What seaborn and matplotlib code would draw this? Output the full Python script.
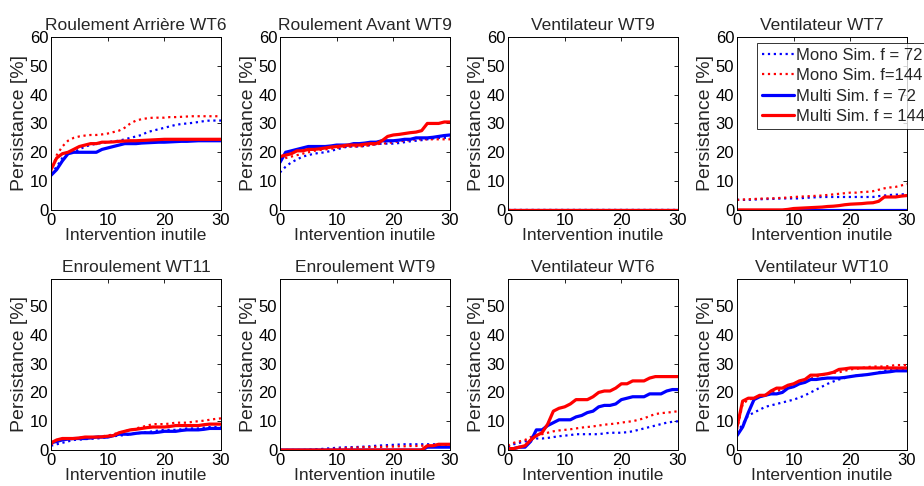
import matplotlib
matplotlib.use('Agg')
import matplotlib.pyplot as plt
import seaborn as sns

sns.set_style("white")
plt.rcParams['font.family'] = ['Liberation Sans', 'DejaVu Sans']
plt.rcParams['xtick.direction'] = 'in'
plt.rcParams['ytick.direction'] = 'in'

# x grid: intervention inutile 0..30
X = [0, 1, 2, 3, 4, 5, 6, 7, 8, 9, 10, 11, 12, 13, 14, 15,
     16, 17, 18, 19, 20, 21, 22, 23, 24, 25, 26, 27, 28, 29, 30]

ZERO = [0, 0, 0, 0, 0, 0, 0, 0, 0, 0, 0, 0, 0, 0, 0, 0,
        0, 0, 0, 0, 0, 0, 0, 0, 0, 0, 0, 0, 0, 0, 0]

titles = ["Roulement Arrière WT6", "Roulement Avant WT9", "Ventilateur WT9", "Ventilateur WT7",
          "Enroulement WT11", "Enroulement WT9", "Ventilateur WT6", "Ventilateur WT10"]

labels = ["Mono Sim. f = 72", "Mono Sim. f=144", "Multi Sim. f = 72", "Multi Sim. f = 144"]

# Roulement Arriere WT6
ra6_mono72 = [12.5, 15, 18, 19.5, 20, 21, 22, 22.5, 23, 23.2, 23.5, 23.8, 24, 24.5, 25, 25.5,
              26, 27, 27.5, 28, 28.5, 29, 29.5, 29.8, 30, 30.2, 30.5, 30.8, 31, 31, 31]
ra6_mono144 = [13, 19, 22, 24, 25, 25.5, 25.8, 26, 26, 26.2, 26.5, 27, 27.5, 28.5, 30, 31,
               31.5, 31.8, 32, 32, 32, 32.2, 32.2, 32.3, 32.4, 32.5, 32.5, 32.5, 32.5, 32.5, 32.5]
ra6_multi72 = [12, 14, 17, 19.5, 20, 20, 20, 20, 20, 21, 21.5, 22, 22.5, 23, 23, 23,
               23.2, 23.3, 23.4, 23.5, 23.5, 23.6, 23.7, 23.8, 23.8, 23.9, 24, 24, 24, 24, 24]
ra6_multi144 = [14, 18, 19.5, 20, 21, 22, 22.5, 23, 23, 23.5, 23.5, 23.6, 23.8, 23.9, 24, 24,
                24.1, 24.2, 24.3, 24.4, 24.5, 24.5, 24.5, 24.5, 24.5, 24.5, 24.5, 24.5, 24.5, 24.5, 24.5]

# Roulement Avant WT9
rav9_mono72 = [13, 15, 16.5, 17.5, 18.5, 19, 19.5, 19.8, 20, 20.5, 21, 21.5, 22, 22, 22, 22.2,
               22.5, 22.8, 23, 23, 23, 23.2, 23.5, 23.8, 24, 24.2, 24.5, 24.8, 25, 25, 25]
rav9_mono144 = [17, 18, 18.5, 19, 19.5, 20, 20.5, 20.8, 21, 21.2, 21.5, 21.8, 22, 22, 22, 22.2,
                22.5, 22.8, 23, 23.2, 23.5, 23.8, 24, 24.2, 24.5, 24.5, 24.5, 24.5, 24.5, 24.5, 24.5]
rav9_multi72 = [16.5, 20, 20.5, 21, 21.5, 22, 22, 22, 22, 22.2, 22.5, 22.5, 22.5, 23, 23, 23.2,
                23.5, 23.5, 24, 24, 24, 24.2, 24.5, 24.5, 25, 25, 25, 25.2, 25.5, 25.8, 26]
rav9_multi144 = [18.5, 19, 19.5, 20.5, 20.5, 21, 21, 21.2, 21.5, 21.8, 22, 22.2, 22.5, 22.5, 22.5, 22.8,
                 23, 23, 24, 25.5, 26, 26.2, 26.5, 26.8, 27, 27.5, 30, 30, 30, 30.5, 30.5]

# Ventilateur WT7
v7_mono72 = [3.5, 3.5, 3.5, 3.6, 3.7, 3.8, 3.8, 3.9, 4, 4, 4, 4, 4.2, 4.3, 4.4, 4.5,
             4.5, 4.5, 4.5, 4.5, 4.5, 4.5, 4.5, 4.5, 4.5, 4.8, 5, 5.2, 5.3, 5.4, 5.5]
v7_mono144 = [3.5, 3.6, 3.7, 3.8, 3.9, 4, 4, 4.1, 4.2, 4.3, 4.5, 4.6, 4.7, 4.8, 4.9, 5,
              5.2, 5.4, 5.6, 5.8, 6, 6, 6.2, 6.3, 6.5, 7, 7.5, 7.8, 8, 8.5, 9]
v7_multi144 = [0, 0, 0, 0, 0, 0, 0, 0, 0, 0.2, 0.5, 0.6, 0.7, 0.8, 0.9, 1,
               1.2, 1.3, 1.5, 1.8, 2, 2.1, 2.2, 2.4, 2.5, 3, 4.5, 4.5, 4.5, 4.8, 5]

# Enroulement WT11
e11_mono72 = [1.5, 2, 2.5, 3, 3.5, 3.6, 3.8, 3.9, 4, 4.2, 4.5, 4.8, 5, 5.2, 5.5, 5.8,
              6, 6.2, 6.5, 6.8, 7, 7, 7, 7.2, 7.5, 7.5, 7.5, 7.8, 8, 8, 8]
e11_mono144 = [2, 2.8, 3.5, 3.8, 4, 4.2, 4.5, 4.5, 4.5, 4.8, 5, 5.5, 6, 6.5, 7, 7.5,
               8, 8.5, 9, 9, 9, 9.2, 9.5, 9.5, 9.5, 9.8, 10, 10.2, 10.5, 10.8, 11]
e11_multi72 = [2.5, 3, 3.5, 3.8, 4, 4, 4, 4.2, 4.5, 4.5, 4.5, 5, 5.5, 5.5, 5.5, 5.8,
               6, 6, 6, 6.2, 6.5, 6.5, 6.5, 6.8, 7, 7, 7, 7.2, 7.5, 7.5, 7.5]
e11_multi144 = [2.5, 3.5, 4, 4, 4, 4.2, 4.5, 4.5, 4.5, 4.6, 4.8, 5, 6, 6.5, 7, 7.2,
                7.5, 7.8, 8, 8, 8, 8.2, 8.5, 8.5, 8.5, 8.5, 8.5, 8.8, 9, 9, 9]

# Enroulement WT9
e9_mono72 = [0, 0, 0, 0, 0, 0.1, 0.2, 0.3, 0.5, 0.6, 0.8, 0.9, 1, 1, 1.1, 1.2,
             1.3, 1.5, 1.6, 1.7, 1.8, 1.9, 2, 2, 2, 2, 2, 2, 2, 2, 2]
e9_mono144 = [0, 0, 0, 0, 0, 0, 0, 0.1, 0.2, 0.3, 0.5, 0.6, 0.7, 0.8, 0.9, 1,
              1, 1.1, 1.1, 1.2, 1.2, 1.3, 1.3, 1.4, 1.4, 1.5, 1.5, 1.5, 1.5, 1.5, 1.5]
e9_multi72 = [0, 0, 0, 0, 0, 0, 0, 0, 0, 0, 0, 0, 0, 0, 0, 0,
              0, 0, 0, 0, 0, 0, 0, 0, 0, 0, 1, 1, 1, 1, 1]
e9_multi144 = [0, 0, 0, 0, 0, 0, 0, 0, 0, 0, 0, 0, 0, 0, 0, 0,
               0, 0, 0, 0, 0, 0, 0, 0, 0, 0, 1.5, 1.5, 2, 2, 2]

# Ventilateur WT6
v6_mono72 = [1, 2, 2.5, 3, 3.5, 4, 4, 4.2, 4.5, 4.8, 5, 5.2, 5.5, 5.5, 5.5, 5.5,
             5.5, 5.8, 6, 6, 6, 6.2, 6.5, 7, 7.5, 8, 8.5, 9, 9.5, 9.8, 10]
v6_mono144 = [1.5, 2.5, 3, 3.5, 4.5, 5, 5.5, 6, 6.5, 6.8, 7, 7.2, 7.5, 7.8, 8, 8.2,
              8.5, 8.8, 9, 9.2, 9.5, 9.8, 10, 10.5, 11, 11.8, 12.5, 12.8, 13, 13.2, 13.5]
v6_multi72 = [0.5, 0.5, 1, 1, 3, 7, 7, 8.5, 9.5, 10.5, 10.5, 10.5, 11.5, 12, 13, 13.5,
              15, 15.5, 15.5, 16, 17.5, 18, 18.5, 18.5, 18.5, 19.5, 19.5, 19.5, 20.5, 21, 21]
v6_multi144 = [0.5, 0.5, 1, 1.5, 3.5, 5, 6, 9, 13.5, 14.5, 15, 16, 17.5, 17.5, 17.5, 18.5,
               20, 20.5, 20.5, 21.5, 23, 23, 24, 24, 24, 25, 25.5, 25.5, 25.5, 25.5, 25.5]

# Ventilateur WT10
v10_mono72 = [6, 9, 12, 13, 14, 15, 15.5, 16, 16.5, 17, 17.5, 18.2, 19, 20, 21, 22,
              23, 23.8, 24.5, 25, 25.5, 25.8, 26, 26.2, 26.5, 27, 27.5, 27.8, 28, 28, 28]
v10_mono144 = [7, 16, 17.5, 18, 18.5, 19, 20, 20.5, 21, 21.5, 22, 23, 24, 24.8, 25.5, 26,
               26.5, 26.8, 27, 27.5, 28, 28.2, 28.5, 28.8, 29, 29, 29, 29.2, 29.5, 29.5, 29.5]
v10_multi72 = [5, 8, 13, 17.5, 18.5, 19, 19.5, 19.5, 20, 21.5, 22, 23, 23.5, 24.5, 24.5, 24.8,
               25, 25, 25, 25.2, 25.5, 25.8, 26, 26.2, 26.5, 26.8, 27, 27.2, 27.5, 27.5, 27.5]
v10_multi144 = [8, 17, 18, 18, 19, 19, 20.5, 21.5, 21.5, 22.5, 23, 24, 24.5, 26, 26, 26.2,
                26.5, 27, 28, 28.2, 28.5, 28.5, 28.5, 28.5, 28.5, 28.5, 28.5, 28.5, 28.5, 28.5, 28.5]

panels = [
    [ra6_mono72, ra6_mono144, ra6_multi72, ra6_multi144],
    [rav9_mono72, rav9_mono144, rav9_multi72, rav9_multi144],
    [ZERO, ZERO, ZERO, ZERO],
    [v7_mono72, v7_mono144, ZERO, v7_multi144],
    [e11_mono72, e11_mono144, e11_multi72, e11_multi144],
    [e9_mono72, e9_mono144, e9_multi72, e9_multi144],
    [v6_mono72, v6_mono144, v6_multi72, v6_multi144],
    [v10_mono72, v10_mono144, v10_multi72, v10_multi144],
]

colors = ["#0000ff", "#ff0000", "#0000ff", "#ff0000"]
styles = [":", ":", "-", "-"]
widths = [1.6, 1.6, 2.3, 2.3]

fig = plt.figure(figsize=(9.24, 4.86), dpi=100)
lefts = [0.0552, 0.303, 0.5498, 0.7976]
axes = []
for i in range(8):
    row, col = divmod(i, 4)
    if row == 0:
        ax = fig.add_axes([lefts[col], 0.568, 0.184, 0.356])
    else:
        ax = fig.add_axes([lefts[col], 0.074, 0.184, 0.352])
    for k in range(4):
        sns.lineplot(x=X, y=panels[i][k], ax=ax, color=colors[k], linestyle=styles[k],
                     linewidth=widths[k], label=labels[k] if i == 3 else None, legend=False)
    ax.set_xlim(0, 30)
    if row == 0:
        ax.set_ylim(0, 60)
        ax.set_yticks([0, 10, 20, 30, 40, 50, 60])
    else:
        ax.set_ylim(0, 59.4)
        ax.set_yticks([0, 10, 20, 30, 40, 50])
    ax.set_xticks([0, 10, 20, 30])
    ax.tick_params(top=True, right=True, length=3, width=0.6, labelsize=12, pad=2, colors='black')
    ax.set_title(titles[i], fontsize=12.5, pad=5)
    ax.set_xlabel("Intervention inutile", fontsize=12.5, labelpad=0)
    ax.set_ylabel("Persistance [%]", fontsize=14, labelpad=1)
    for s in ax.spines.values():
        s.set_color('black')
        s.set_linewidth(0.7)
    axes.append(ax)

# legend sits in the WT7 panel and runs past the right edge, as in the original
leg = axes[3].legend(loc='upper left', bbox_to_anchor=(0.115, 0.965), fontsize=12,
                     frameon=True, fancybox=False, edgecolor='black', borderpad=0.3,
                     labelspacing=0.32, handlelength=1.95, handletextpad=0.1, borderaxespad=0)
leg.get_frame().set_linewidth(0.7)

fig.savefig("out.png", dpi=100)
